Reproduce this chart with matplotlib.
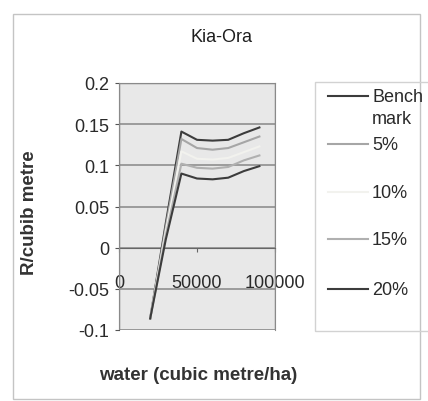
import matplotlib
matplotlib.use('Agg')
import matplotlib.pyplot as plt
from matplotlib.patches import Rectangle

plt.rcParams['font.family'] = ['Liberation Sans', 'DejaVu Sans']

# water use (cubic metre/ha) and return per cubic metre for each scenario
water = [20000, 30000, 40000, 50000, 60000, 70000, 80000, 90000]
bench = [-0.086, 0.030, 0.141, 0.131, 0.130, 0.131, 0.139, 0.146]
pct5 = [-0.086, 0.025, 0.132, 0.121, 0.119, 0.121, 0.128, 0.135]
pct10 = [-0.086, 0.020, 0.117, 0.108, 0.107, 0.109, 0.116, 0.123]
pct15 = [-0.086, 0.015, 0.102, 0.097, 0.096, 0.098, 0.106, 0.112]
pct20 = [-0.086, 0.010, 0.090, 0.084, 0.083, 0.085, 0.093, 0.099]
names = ['Bench\nmark', '5%', '10%', '15%', '20%']
colours = ['#3c3c3c', '#a6a6a6', '#f2f2ee', '#b0b0b0', '#3c3c3c']
yticks = [-0.1, -0.05, 0, 0.05, 0.1, 0.15, 0.2]
yticklabels = ['-0.1', '-0.05', '0', '0.05', '0.1', '0.15', '0.2']
xticks = [0, 50000, 100000]

W, H = 428, 402
fig = plt.figure(figsize=(W / 100, H / 100), dpi=100)

def fx(px):
    return px / W

def fy(py):
    return 1 - py / H

# outer chart frame
fig.patches.append(Rectangle((fx(13), fy(400)), fx(420) - fx(13), fy(15) - fy(400),
                             transform=fig.transFigure, fill=False,
                             edgecolor='#c4c4c4', lw=1))

ax = fig.add_axes([fx(119), fy(331), fx(275) - fx(119), fy(84) - fy(331)])
ax.set_facecolor('#e8e8e8')
for s in ['top', 'right', 'left']:
    ax.spines[s].set_color('#8a8a8a')
ax.spines['left'].set_color('#555555')
ax.spines['bottom'].set_position(('data', 0))
ax.spines['bottom'].set_color('#666666')
ax.add_patch(Rectangle((0, 0), 1, 1, transform=ax.transAxes, fill=False,
                       edgecolor='#8a8a8a', lw=1, zorder=3))

series = [bench, pct5, pct10, pct15, pct20]
for vals, c in zip(series, colours):
    ax.plot(water, vals, color=c, lw=1.5, zorder=4)

ax.set_xlim(0, 100000)
ax.set_ylim(-0.1, 0.2)
ax.set_yticks(yticks)
ax.set_yticklabels(yticklabels)
ax.set_xticks(xticks)
ax.set_xticklabels([str(v) for v in xticks])
ax.yaxis.grid(True, color='#8f8f8f', lw=1.2)
ax.set_axisbelow(True)
ax.tick_params(axis='y', length=3, color='#555555', labelsize=13, pad=4,
               labelcolor='#2a2a2a')
ax.tick_params(axis='x', length=3, color='#666666', labelsize=13, pad=16,
               labelcolor='#2a2a2a')

ax.set_ylabel('R/cubib metre', fontsize=13.5, fontweight='bold', color='#333333')
ax.yaxis.set_label_coords(-0.52, 0.478)
ax.set_xlabel('water (cubic metre/ha)', fontsize=13.5, fontweight='bold', color='#333333')
ax.xaxis.set_label_coords(0.506, -0.146)

fig.text(fx(221), fy(38), 'Kia-Ora', ha='center', va='center', fontsize=13,
         color='#1e1e1e')

# legend panel
fig.patches.append(Rectangle((fx(315), fy(332)), fx(440) - fx(315), fy(83) - fy(332),
                             transform=fig.transFigure, fill=False,
                             edgecolor='#d2d2d2', lw=1))
leg_y = [97, 145, 193, 240, 290]
for name, c, py in zip(names, colours, leg_y):
    fig.add_artist(plt.Line2D([fx(328), fx(368)], [fy(py), fy(py)],
                              transform=fig.transFigure, color=c, lw=1.5))
    fig.text(fx(372), fy(py - 8), name, ha='left', va='top', fontsize=13,
             color='#2a2a2a', linespacing=1.35)

fig.savefig('out.png', dpi=100)
